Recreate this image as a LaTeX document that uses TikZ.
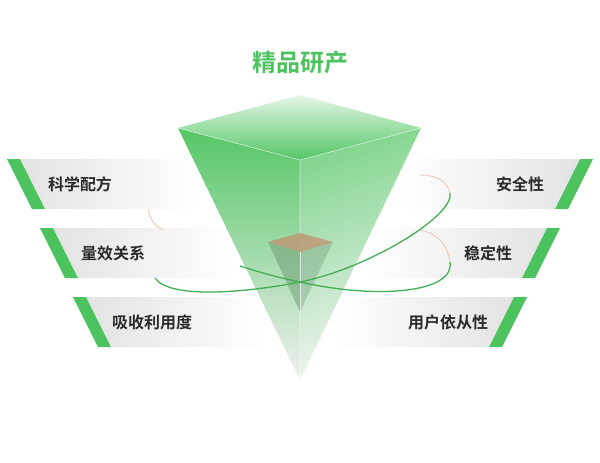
\documentclass[tikz,border=0pt]{standalone}
\usepackage{fontspec}
\newfontfamily\cjk{Noto Sans CJK SC Bold}
\definecolor{gr}{HTML}{4CC35E}
\definecolor{tx}{HTML}{2B2B2B}
\begin{document}
\begin{tikzpicture}[x=1pt,y=-1pt,
  lbl/.style={font=\cjk\fontsize{16}{18}\selectfont,text=tx},
  orbit/.style={draw=gr!90!black,line width=1.3pt},
  faint/.style={draw=gr!40!red!30,line width=0.9pt}]
\useasboundingbox (0,0) rectangle (600,463);
\fill[white] (0,0) rectangle (600,463);
% right bars
\foreach \t/\s in {159/0,228/33,297/66}{
  \shade[left color=white,right color=gray!22] (400-\s,\t) -- (580-\s,\t) -- (555-\s,\t+50) -- (400-\s,\t+50) -- cycle;
  \fill[gr] (580-\s,\t) -- (593-\s,\t) -- (568-\s,\t+50) -- (555-\s,\t+50) -- cycle;
}
% left bars
\foreach \t/\s in {159/0,228/33,297/66}{
  \shade[left color=gray!22,right color=white] (20+\s,\t) -- (200+\s,\t) -- (200+\s,\t+50) -- (45+\s,\t+50) -- cycle;
  \fill[gr] (7+\s,\t) -- (20+\s,\t) -- (45+\s,\t+50) -- (32+\s,\t+50) -- cycle;
}
% pyramid
\shade[top color=gr!95,bottom color=brown!10!gray!12] (178,128) -- (300,160) -- (300,380) -- cycle;
\shade[top color=gr!70,bottom color=gray!8,shading angle=20] (300,160) -- (421,128) -- (300,380) -- cycle;
\shade[top color=gr!15,bottom color=gr!95] (178,128) -- (300,95) -- (421,128) -- (300,160) -- cycle;
\draw[white,opacity=0.6,line width=0.6pt] (178,128) -- (300,160) -- (421,128) (300,160) -- (300,380);
% inner pyramid
\fill[gr!40!gray,opacity=0.5] (268,242) -- (300,252) -- (300,312) -- cycle;
\fill[gr!30!gray,opacity=0.35] (300,252) -- (333,242) -- (300,312) -- cycle;
\fill[brown!70!gray!80,opacity=0.85] (268,242) -- (300,233) -- (333,242) -- (300,252) -- cycle;
\draw[white,opacity=0.6,line width=0.6pt] (300,252) -- (300,312);
% orbits
\draw[faint] (148,209) .. controls (150,220) and (155,226) .. (163,230);
\draw[orbit] (240,266) .. controls (262,273) and (280,278) .. (300,282) .. controls (380,300) and (455,292) .. (450,262);
\draw[faint] (450,262) .. controls (447,240) and (432,232) .. (420,230);
\draw[orbit] (155,278) .. controls (170,300) and (250,292) .. (300,282) .. controls (370,268) and (455,215) .. (450,193);
\draw[faint] (450,193) .. controls (447,180) and (435,175) .. (420,175);
\node[font=\cjk\fontsize{24}{26}\selectfont,text=gr] (title) at (300,62) {精品研产};
\node[lbl] (a1) at (80,184) {科学配方};
\node[lbl] (a2) at (113,253) {量效关系};
\node[lbl] (a3) at (152,322) {吸收利用度};
\node[lbl] (b1) at (520,184) {安全性};
\node[lbl] (b2) at (488,253) {稳定性};
\node[lbl] (b3) at (448,322) {用户依从性};
\end{tikzpicture}
\end{document}
